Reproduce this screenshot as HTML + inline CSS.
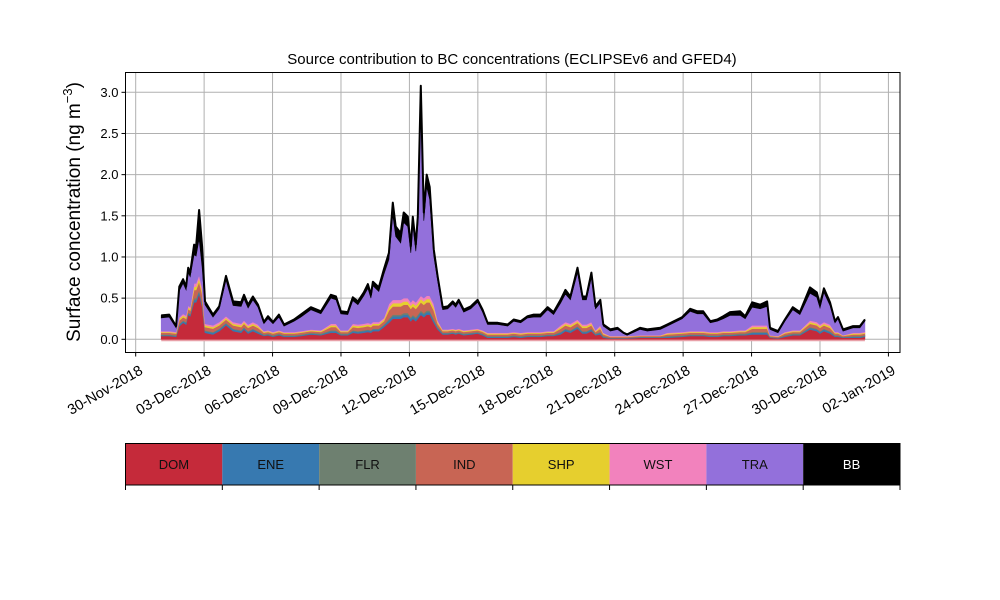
<!DOCTYPE html>
<html><head><meta charset="utf-8"><style>
body{margin:0;background:#fff;}
svg{display:block;font-family:"Liberation Sans","DejaVu Sans",sans-serif;}
</style></head><body>
<svg id="chart" width="1000" height="600" viewBox="0 0 1000 600">
<rect width="1000" height="600" fill="#fff"/>
<g id="grid"></g>
<g id="areas"></g>
<g id="axes"></g>
<text x="512" y="64" text-anchor="middle" font-size="15">Source contribution to BC concentrations (ECLIPSEv6 and GFED4)</text>
<text transform="translate(80,212) rotate(-90)" text-anchor="middle" font-size="19">Surface concentration (ng m<tspan dy="-8" font-size="13">−3</tspan><tspan dy="8">)</tspan></text>
<g id="legend"></g>
</svg>
<script>
const dates = [0.12,0.47,0.77,0.91,1.08,1.21,1.30,1.39,1.56,1.65,1.78,1.91,2.04,2.39,2.66,2.96,3.27,3.62,3.75,3.93,4.14,4.36,4.62,4.80,5.02,5.28,5.50,5.94,6.24,6.68,7.12,7.56,7.78,7.99,8.30,8.52,8.74,9.00,9.18,9.31,9.40,9.66,9.88,10.10,10.27,10.40,10.62,10.75,10.93,11.06,11.15,11.28,11.37,11.50,11.63,11.76,11.89,12.07,12.24,12.46,12.68,12.90,13.03,13.16,13.38,13.69,13.99,14.21,14.43,14.87,15.31,15.57,15.88,16.18,16.45,16.75,17.06,17.32,17.63,17.84,18.06,18.37,18.59,18.76,18.98,19.16,19.37,19.50,19.81,20.12,20.38,20.55,21.12,21.43,22.00,22.30,22.96,23.31,23.62,23.88,24.19,24.50,24.76,25.06,25.50,25.72,26.03,26.38,26.68,26.81,27.16,27.46,27.81,28.12,28.56,28.86,29.00,29.17,29.44,29.66,29.79,30.01,30.45,30.75,30.97];
const dom = [.04,.04,.03,.16,.20,.18,.30,.28,.45,.45,.55,.40,.08,.06,.10,.17,.10,.08,.12,.07,.10,.07,.04,.05,.03,.05,.03,.03,.04,.06,.05,.08,.08,.05,.05,.08,.07,.08,.09,.08,.10,.10,.15,.20,.25,.25,.25,.27,.27,.22,.25,.22,.25,.30,.27,.30,.30,.20,.12,.06,.06,.07,.06,.07,.05,.06,.07,.05,.02,.02,.02,.03,.02,.03,.03,.03,.04,.04,.06,.10,.08,.13,.07,.07,.10,.05,.06,.02,.01,.01,.01,.01,.02,.02,.02,.02,.03,.04,.04,.04,.03,.03,.04,.04,.05,.05,.06,.06,.06,.02,.01,.03,.05,.05,.12,.10,.07,.10,.07,.03,.03,.02,.02,.02,.03];
const ene = [.01,.01,.01,.02,.02,.02,.02,.02,.03,.03,.03,.03,.02,.02,.02,.02,.02,.02,.02,.02,.02,.02,.01,.01,.01,.01,.01,.01,.01,.01,.01,.02,.02,.01,.01,.02,.02,.02,.02,.02,.02,.02,.02,.03,.03,.03,.03,.03,.03,.03,.03,.03,.03,.03,.03,.03,.03,.03,.02,.01,.01,.01,.01,.01,.01,.01,.01,.01,.01,.01,.01,.01,.01,.01,.01,.01,.01,.01,.02,.02,.02,.02,.02,.02,.02,.01,.02,.01,.005,.005,.005,.005,.005,.005,.005,.01,.01,.01,.01,.01,.01,.01,.01,.01,.01,.01,.02,.02,.02,.005,.005,.01,.01,.01,.02,.02,.02,.02,.02,.01,.01,.005,.01,.01,.01];
const flr = [.01,.01,.01,.01,.01,.01,.01,.01,.02,.02,.02,.02,.01,.01,.01,.01,.01,.01,.01,.01,.01,.01,.01,.01,.01,.01,.01,.01,.01,.01,.01,.01,.01,.01,.01,.01,.01,.01,.01,.01,.01,.01,.01,.02,.02,.02,.02,.02,.02,.02,.02,.02,.02,.02,.02,.02,.02,.02,.01,.01,.01,.01,.01,.01,.01,.01,.01,.01,.01,.01,.01,.01,.01,.01,.01,.01,.01,.01,.01,.01,.01,.01,.01,.01,.01,.01,.01,.01,.005,.005,.005,.005,.005,.005,.005,.01,.01,.01,.01,.01,.01,.01,.01,.01,.01,.01,.01,.01,.01,.005,.005,.01,.01,.01,.01,.01,.01,.01,.01,.01,.01,.005,.01,.01,.01];
const ind = [.02,.02,.02,.04,.04,.04,.04,.04,.10,.10,.10,.10,.04,.04,.04,.04,.04,.04,.04,.04,.04,.04,.02,.02,.02,.02,.02,.02,.02,.02,.02,.04,.04,.02,.02,.04,.04,.04,.04,.04,.04,.04,.04,.10,.10,.10,.10,.10,.10,.10,.10,.10,.10,.10,.10,.10,.10,.10,.04,.02,.02,.02,.02,.02,.02,.02,.02,.02,.02,.02,.02,.02,.02,.02,.02,.02,.02,.02,.04,.04,.04,.04,.04,.04,.04,.02,.04,.02,.01,.01,.01,.01,.01,.01,.01,.02,.02,.02,.02,.02,.02,.02,.02,.02,.02,.02,.04,.04,.04,.01,.01,.02,.02,.02,.04,.04,.04,.04,.04,.02,.02,.01,.02,.02,.02];
const shp = [.01,.01,.01,.02,.02,.02,.02,.02,.04,.04,.04,.04,.02,.02,.02,.02,.02,.02,.02,.02,.02,.02,.01,.01,.01,.01,.01,.01,.01,.01,.01,.02,.02,.01,.01,.02,.02,.02,.02,.02,.02,.02,.02,.04,.04,.04,.04,.04,.04,.04,.04,.04,.04,.04,.04,.04,.04,.04,.02,.01,.01,.01,.01,.01,.01,.01,.01,.01,.01,.01,.01,.01,.01,.01,.01,.01,.01,.01,.02,.02,.02,.02,.02,.02,.02,.01,.02,.01,.005,.005,.005,.005,.005,.005,.005,.01,.01,.01,.01,.01,.01,.01,.01,.01,.01,.01,.02,.02,.02,.005,.005,.01,.01,.01,.02,.02,.02,.02,.02,.01,.01,.005,.01,.01,.01];
const wst = [.01,.01,.01,.02,.02,.02,.02,.02,.04,.04,.04,.04,.02,.02,.02,.02,.02,.02,.02,.02,.02,.02,.01,.01,.01,.01,.01,.01,.01,.01,.01,.02,.02,.01,.01,.02,.02,.02,.02,.02,.02,.02,.02,.04,.04,.04,.04,.04,.04,.04,.04,.04,.04,.04,.04,.04,.04,.04,.02,.01,.01,.01,.01,.01,.01,.01,.01,.01,.01,.01,.01,.01,.01,.01,.01,.01,.01,.01,.02,.02,.02,.02,.02,.02,.02,.01,.02,.01,.005,.005,.005,.005,.005,.005,.005,.01,.01,.01,.01,.01,.01,.01,.01,.01,.01,.01,.02,.02,.02,.005,.005,.01,.01,.01,.02,.02,.02,.02,.02,.01,.01,.005,.01,.01,.01];
const tra = [.16,.17,.05,.32,.37,.31,.40,.37,.35,.33,.44,.25,.23,.10,.16,.44,.20,.21,.26,.20,.27,.21,.09,.14,.10,.16,.07,.13,.17,.24,.20,.31,.29,.20,.19,.28,.24,.34,.42,.31,.44,.37,.53,.54,1.03,.77,.69,.92,.87,.60,.91,.62,.91,2.30,.94,1.32,1.17,.58,.48,.24,.25,.30,.27,.32,.22,.25,.32,.22,.10,.10,.08,.13,.12,.17,.18,.18,.26,.20,.27,.34,.29,.57,.30,.30,.54,.26,.27,.08,.06,.08,.03,.01,.07,.05,.07,.08,.16,.24,.21,.21,.11,.13,.15,.19,.18,.14,.22,.20,.23,.07,.04,.13,.25,.19,.33,.30,.20,.36,.23,.11,.16,.05,.06,.06,.13];
const bb = [.03,.03,.02,.05,.05,.04,.06,.05,.12,.12,.35,.25,.04,.03,.03,.05,.05,.05,.05,.04,.04,.03,.02,.03,.02,.03,.02,.02,.03,.03,.03,.04,.04,.03,.03,.04,.04,.04,.05,.04,.05,.05,.06,.08,.15,.12,.12,.12,.12,.08,.10,.08,.10,.25,.10,.15,.15,.08,.05,.03,.03,.03,.03,.03,.03,.03,.03,.03,.02,.02,.02,.02,.02,.02,.03,.03,.03,.03,.04,.05,.04,.06,.04,.04,.06,.03,.04,.02,.02,.02,.01,.01,.02,.02,.02,.02,.02,.03,.03,.03,.02,.02,.03,.04,.05,.03,.06,.05,.06,.02,.02,.02,.03,.03,.07,.06,.04,.05,.04,.02,.02,.02,.02,.02,.02];
const seriesNames = ["DOM","ENE","FLR","IND","SHP","WST","TRA","BB"];
const seriesColors = ["#c52a3a","#3779b0","#6e8070","#c86554","#e6cf2e","#f282bd","#9370db","#000000"];
const yTicks = [0,0.5,1.0,1.5,2.0,2.5,3.0];
const yTickLabels = ["0.0","0.5","1.0","1.5","2.0","2.5","3.0"];
const xTicks = [-1,2,5,8,11,14,17,20,23,26,29,32];
const xTickLabels = ["30-Nov-2018","03-Dec-2018","06-Dec-2018","09-Dec-2018","12-Dec-2018","15-Dec-2018","18-Dec-2018","21-Dec-2018","24-Dec-2018","27-Dec-2018","30-Dec-2018","02-Jan-2019"];

const NS="http://www.w3.org/2000/svg";
const L=125.5,R=900,T=72.5,B=352.5;
function xs(d){return 158.5+d*22.81;}
function ys(v){return 339.3-v*82.33;}
function mk(tag,attrs,parent){const e=document.createElementNS(NS,tag);for(const k in attrs)e.setAttribute(k,attrs[k]);parent.appendChild(e);return e;}
const grid=document.getElementById('grid'),areas=document.getElementById('areas'),axes=document.getElementById('axes'),legend=document.getElementById('legend');

yTicks.forEach((v,i)=>{
  const g=mk('line',{x1:L,x2:R,y1:ys(v),y2:ys(v),stroke:'#b0b0b0','stroke-width':1},grid);
  
  
  const t=mk('line',{x1:L-4,x2:L,y1:ys(v),y2:ys(v),stroke:'#000'},axes);
  
  
  const lb=mk('text',{x:L-7,y:ys(v)+4.5,'text-anchor':'end','font-size':13},axes);
  lb.textContent=yTickLabels[i];
  
  
});
xTicks.forEach((d,i)=>{
  const x=xs(d);
  const g=mk('line',{x1:x,x2:x,y1:T,y2:B,stroke:'#b0b0b0','stroke-width':1},grid);
  
  
  const t=mk('line',{x1:x,x2:x,y1:B,y2:B+4,stroke:'#000'},axes);
  
  
  const lb=mk('text',{transform:`translate(${x+3},${B+12}) rotate(-30)`,'text-anchor':'end','font-size':14.5,y:10},axes);
  lb.textContent=xTickLabels[i];
  
  
});

const all=[dom,ene,flr,ind,shp,wst,tra,bb];
let base=dates.map(()=>0);
const zl=mk('line',{x1:xs(dates[0]),x2:xs(dates[dates.length-1]),y1:ys(0)+1,y2:ys(0)+1,stroke:'#e8a0a8','stroke-width':2},areas);


all.forEach((s,k)=>{
  const top=base.map((b,i)=>b+s[i]);
  let p='';
  dates.forEach((d,i)=>{p+=(i?'L':'M')+xs(d).toFixed(1)+','+ys(top[i]).toFixed(1);});
  for(let i=dates.length-1;i>=0;i--)p+='L'+xs(dates[i]).toFixed(1)+','+ys(base[i]).toFixed(1);
  const a=mk('path',{d:p+'Z',fill:seriesColors[k],stroke:seriesColors[k],'stroke-width':0.6},areas);
  
  
  base=top;
});
let tp='';
dates.forEach((d,i)=>{tp+=(i?'L':'M')+xs(d).toFixed(1)+','+ys(base[i]).toFixed(1);});
const tl=mk('path',{d:tp,fill:'none',stroke:'#000','stroke-width':2,'stroke-linejoin':'round'},areas);



const fr=mk('rect',{x:L,y:T,width:R-L,height:B-T,fill:'none',stroke:'#000','stroke-width':1},axes);



const lw=(R-L)/8;
seriesNames.forEach((n,k)=>{
  const x=L+k*lw;
  const r=mk('rect',{x:x,y:443.5,width:lw,height:41.5,fill:seriesColors[k]},legend);
  
  
  const t=mk('text',{x:x+lw/2,y:469,'text-anchor':'middle','font-size':13,fill:n==='BB'?'#fff':'#111'},legend);
  t.textContent=n;
  
  
});
for(let k=0;k<=8;k++){
  const t=mk('line',{x1:L+k*lw,x2:L+k*lw,y1:485,y2:490,stroke:'#000'},legend);
  
  
}
const lf=mk('rect',{x:L,y:443.5,width:R-L,height:41.5,fill:'none',stroke:'#000','stroke-width':1},legend);


</script>
</body></html>
